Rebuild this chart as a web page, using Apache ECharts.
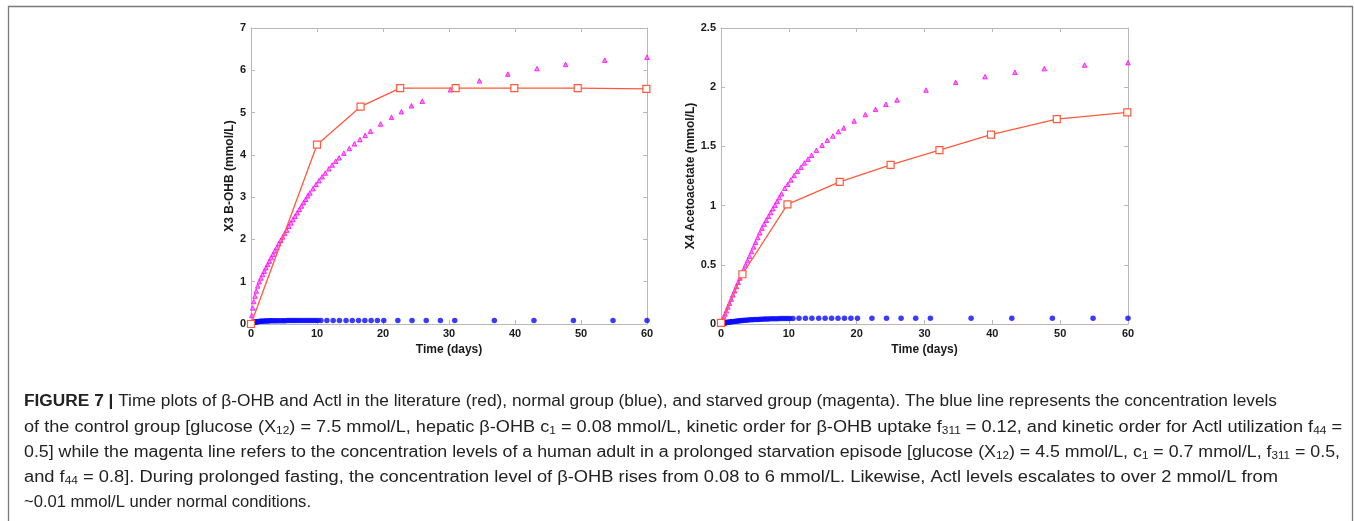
<!DOCTYPE html>
<html><head><meta charset="utf-8">
<script src="https://cdn.jsdelivr.net/npm/echarts@6/dist/echarts.min.js"></script>
<style>html,body{margin:0;padding:0;background:#fff}#c{width:1354px;height:521px}</style>
</head><body><div id="c"></div>
<script>
// ---------------- data ----------------
const xTicks = [0, 10, 20, 30, 40, 50, 60];
const yTicksOHB = [0, 1, 2, 3, 4, 5, 6, 7];
const yTicksACAC = [0, 0.5, 1, 1.5, 2, 2.5];
const xName = 'Time (days)';
const yNameOHB = 'X3 B-OHB (mmol/L)';
const yNameACAC = 'X4 Acetoacetate (mmol/L)';

// literature (red)
const litOhbT = [0, 10, 16.6, 22.6, 31, 39.9, 49.5, 59.9];
const litOhb  = [0, 4.24, 5.14, 5.58, 5.58, 5.58, 5.58, 5.56];
const litAcacT = [0, 3.16, 9.8, 17.5, 25, 32.2, 39.8, 49.5, 59.9];
const litAcac  = [0.01, 0.42, 1.01, 1.2, 1.344, 1.468, 1.6, 1.73, 1.788];

// starved group (magenta) – solver time points
const starvedT = [0, 0.12, 0.26, 0.42, 0.6, 0.8, 1.02, 1.25, 1.5, 1.75,
  2.0, 2.26, 2.52, 2.79, 3.06, 3.34, 3.62, 3.91, 4.2, 4.5,
  4.8, 5.1, 5.41, 5.72, 6.04, 6.36, 6.68, 7.0, 7.32, 7.64,
  7.96, 8.28, 8.6, 8.92, 9.4, 9.85, 10.3, 10.78, 11.25, 11.8,
  12.3, 12.83, 13.35, 14.07, 14.9, 15.67, 16.5, 17.3, 18.1, 19.63,
  21.28, 22.78, 24.31, 25.95, 30.22, 34.6, 38.92, 43.33, 47.66, 53.6, 60];
const starvedOhb = [0, 0.2, 0.38, 0.53, 0.66, 0.78, 0.9, 1.0, 1.09, 1.17,
  1.25, 1.33, 1.41, 1.49, 1.57, 1.65, 1.73, 1.81, 1.9, 1.98,
  2.06, 2.14, 2.22, 2.31, 2.39, 2.47, 2.55, 2.63, 2.71, 2.79,
  2.87, 2.95, 3.03, 3.1, 3.2, 3.3, 3.39, 3.48, 3.57, 3.67,
  3.76, 3.85, 3.93, 4.04, 4.15, 4.26, 4.36, 4.46, 4.56, 4.73,
  4.89, 5.02, 5.16, 5.27, 5.54, 5.75, 5.91, 6.04, 6.14, 6.24, 6.31];
const starvedAcac = [0, 0.017, 0.037, 0.06, 0.085, 0.113, 0.144, 0.176, 0.211, 0.246,
  0.281, 0.317, 0.352, 0.389, 0.425, 0.461, 0.498, 0.535, 0.573, 0.612,
  0.651, 0.69, 0.73, 0.77, 0.81, 0.844, 0.877, 0.909, 0.941, 0.973,
  1.004, 1.036, 1.068, 1.1, 1.147, 1.18, 1.217, 1.254, 1.29, 1.324,
  1.36, 1.392, 1.425, 1.468, 1.51, 1.552, 1.588, 1.625, 1.656, 1.715,
  1.769, 1.813, 1.856, 1.892, 1.976, 2.041, 2.089, 2.126, 2.157, 2.187, 2.207];

// normal group (blue) – solver time points
const normalT = [0, 0.05, 0.1, 0.2, 0.3, 0.4, 0.5, 0.6, 0.7, 0.8,
  0.9, 1.0, 1.15, 1.3, 1.45, 1.6, 1.8, 2.0, 2.2, 2.4,
  2.6, 2.8, 3.0, 3.25, 3.5, 3.75, 4.0, 4.3, 4.6, 4.9,
  5.2, 5.5, 5.8, 6.1, 6.4, 6.7, 7.0, 7.35, 7.7, 8.05,
  8.4, 8.75, 9.1, 9.45, 9.8, 10.15, 10.6, 11.5, 12.45, 13.4,
  14.4, 15.35, 16.3, 17.25, 18.2, 19.15, 20.12, 22.25, 24.4, 26.55,
  28.7, 30.87, 36.87, 42.87, 48.85, 54.85, 60];
const normalOhb = [0, 0.006, 0.012, 0.021, 0.028, 0.034, 0.039, 0.043, 0.047, 0.05,
  0.053, 0.055, 0.058, 0.061, 0.063, 0.065, 0.067, 0.069, 0.071, 0.072,
  0.073, 0.074, 0.075, 0.076, 0.077, 0.077, 0.078, 0.078, 0.079, 0.079,
  0.079, 0.08, 0.08, 0.08, 0.08, 0.08, 0.08, 0.08, 0.08, 0.08,
  0.08, 0.08, 0.08, 0.08, 0.08, 0.08, 0.08, 0.08, 0.08, 0.08,
  0.08, 0.08, 0.08, 0.08, 0.08, 0.08, 0.08, 0.08, 0.08, 0.08,
  0.08, 0.08, 0.08, 0.08, 0.08, 0.08, 0.08];
const normalAcac = [0, 0.001, 0.002, 0.004, 0.006, 0.007, 0.009, 0.01, 0.011, 0.012,
  0.013, 0.014, 0.015, 0.017, 0.018, 0.019, 0.021, 0.022, 0.024, 0.025,
  0.026, 0.027, 0.029, 0.03, 0.031, 0.032, 0.034, 0.035, 0.036, 0.037,
  0.038, 0.039, 0.04, 0.041, 0.042, 0.042, 0.043, 0.044, 0.044, 0.045,
  0.045, 0.046, 0.046, 0.047, 0.047, 0.047, 0.047, 0.048, 0.048, 0.048,
  0.048, 0.048, 0.048, 0.048, 0.048, 0.048, 0.048, 0.048, 0.048, 0.048,
  0.048, 0.048, 0.048, 0.048, 0.048, 0.048, 0.048];

// caption lines: [style, text] segments
const captionLines = [
  [['b', 'FIGURE 7 | '], ['n', 'Time plots of β-OHB and Actl in the literature (red), normal group (blue), and starved group (magenta). The blue line represents the concentration levels']],
  [['n', 'of the control group [glucose (X'], ['s', '12'], ['n', ') = 7.5 mmol/L, hepatic β-OHB c'], ['s', '1'], ['n', ' = 0.08 mmol/L, kinetic order for β-OHB uptake f'], ['s', '311'], ['n', ' = 0.12, and kinetic order for Actl utilization f'], ['s', '44'], ['n', ' =']],
  [['n', '0.5] while the magenta line refers to the concentration levels of a human adult in a prolonged starvation episode [glucose (X'], ['s', '12'], ['n', ') = 4.5 mmol/L, c'], ['s', '1'], ['n', ' = 0.7 mmol/L, f'], ['s', '311'], ['n', ' = 0.5,']],
  [['n', 'and f'], ['s', '44'], ['n', ' = 0.8]. During prolonged fasting, the concentration level of β-OHB rises from 0.08 to 6 mmol/L. Likewise, Actl levels escalates to over 2 mmol/L from']],
  [['n', '~0.01 mmol/L under normal conditions.']]
];

// ---------------- layout / style ----------------
const RED = '#ff5a3c', MAG = '#ff00ff', BLUE = '#0a0aff';
const AX = '#b8b8b8';
const FONT = 'Liberation Sans';
const zip = (a, b) => a.map((v, i) => [v, b[i]]);

function xAxes(gi) {
  return [{
    type: 'value', gridIndex: gi, position: 'bottom', min: xTicks[0], max: xTicks[xTicks.length - 1],
    interval: xTicks[1] - xTicks[0],
    name: xName, nameLocation: 'middle', nameGap: 20,
    nameTextStyle: { fontFamily: FONT, fontSize: 12, fontWeight: 'bold', color: '#1a1a1a' },
    axisLine: { show: true, onZero: false, lineStyle: { color: AX, width: 1 } },
    axisTick: { show: true, inside: true, length: 4, lineStyle: { color: AX } },
    axisLabel: { fontFamily: FONT, fontSize: 11, fontWeight: 'bold', color: '#1a1a1a', margin: 4 },
    splitLine: { show: false }
  }, {
    type: 'value', gridIndex: gi, position: 'top', min: xTicks[0], max: xTicks[xTicks.length - 1],
    interval: xTicks[1] - xTicks[0],
    axisLine: { show: true, onZero: false, lineStyle: { color: AX, width: 1 } },
    axisTick: { show: true, inside: true, length: 4, lineStyle: { color: AX } },
    axisLabel: { show: false }, splitLine: { show: false }
  }];
}
function yAxes(gi, ticks, name, gap) {
  const base = {
    type: 'value', gridIndex: gi, min: ticks[0], max: ticks[ticks.length - 1], interval: ticks[1] - ticks[0],
    axisLine: { show: true, onZero: false, lineStyle: { color: AX, width: 1 } },
    axisTick: { show: true, inside: true, length: 4, lineStyle: { color: AX } },
    splitLine: { show: false }
  };
  return [Object.assign({}, base, {
    position: 'left', name: name, nameLocation: 'middle', nameGap: gap, nameRotate: 90,
    nameTextStyle: { fontFamily: FONT, fontSize: 12, fontWeight: 'bold', color: '#1a1a1a' },
    axisLabel: { fontFamily: FONT, fontSize: 11, fontWeight: 'bold', color: '#1a1a1a', margin: 5 }
  }), Object.assign({}, base, { position: 'right', axisLabel: { show: false } })];
}

function seriesFor(xi, yi, litT, lit, sT, sV, nT, nV) {
  return [
    { type: 'scatter', xAxisIndex: xi, yAxisIndex: yi, data: zip(nT, nV), symbol: 'circle', symbolSize: 5.5,
      itemStyle: { color: BLUE }, z: 3 },
    { type: 'scatter', xAxisIndex: xi, yAxisIndex: yi, data: zip(sT, sV), symbol: 'triangle', symbolSize: 4.5,
      itemStyle: { color: '#ff66ff', borderColor: MAG, borderWidth: 1 }, z: 4 },
    { type: 'line', xAxisIndex: xi, yAxisIndex: yi, data: zip(litT, lit), symbol: 'rect', symbolSize: 7,
      showSymbol: true, lineStyle: { color: RED, width: 1.3 },
      itemStyle: { color: '#ffffff', borderColor: RED, borderWidth: 1.2 }, z: 5 }
  ];
}

const chart = echarts.init(document.getElementById('c'), null, { renderer: 'canvas' });

// caption rich text, each line fitted to its width in the reference
const capStyles = {
  n: { fontSize: 16, fontFamily: FONT, color: '#222', lineHeight: 18 },
  b: { fontSize: 16, fontFamily: FONT, fontWeight: 'bold', color: '#222', lineHeight: 18 },
  s: { fontSize: 10.5, fontFamily: FONT, color: '#222', lineHeight: 10, padding: [8, 0, 0, 0], verticalAlign: 'bottom' }
};
const capLeft = 24;
const capRight = [1277, 1342, 1340, 1278, 311];
const capY = [402, 428, 453, 478, 503];
const mctx = document.createElement('canvas').getContext('2d');
function segWidth(seg) {
  const st = capStyles[seg[0]];
  mctx.font = (st.fontWeight || 'normal') + ' ' + st.fontSize + 'px "' + FONT + '"';
  return mctx.measureText(seg[1]).width;
}
const captionGraphics = captionLines.map((line, i) => {
  const w = line.reduce((s, seg) => s + segWidth(seg), 0);
  return {
    type: 'text', x: capLeft, y: capY[i], scaleX: (capRight[i] - capLeft) / w, silent: true,
    style: {
      text: line.map(seg => '{' + seg[0] + '|' + seg[1] + '}').join(''),
      rich: capStyles, align: 'left', verticalAlign: 'middle',
      font: '16px "' + FONT + '"', fill: '#222'
    }
  };
});

const option = {
  animation: false,
  backgroundColor: '#ffffff',
  grid: [
    { left: 251, top: 28, width: 396, height: 296, containLabel: false },
    { left: 721, top: 28, width: 407, height: 296, containLabel: false }
  ],
  xAxis: [...xAxes(0), ...xAxes(1)],
  yAxis: [...yAxes(0, yTicksOHB, yNameOHB, 10), ...yAxes(1, yTicksACAC, yNameACAC, 20)],
  series: [
    ...seriesFor(0, 0, litOhbT, litOhb, starvedT, starvedOhb, normalT, normalOhb),
    ...seriesFor(2, 2, litAcacT, litAcac, starvedT, starvedAcac, normalT, normalAcac)
  ],
  graphic: [
    { type: 'rect', shape: { x: 8.5, y: 6.5, width: 1344, height: 600 }, silent: true,
      style: { fill: 'none', stroke: '#7a7a7a', lineWidth: 1.3 } },
    ...captionGraphics
  ]
};
chart.setOption(option);
</script>
</body></html>
